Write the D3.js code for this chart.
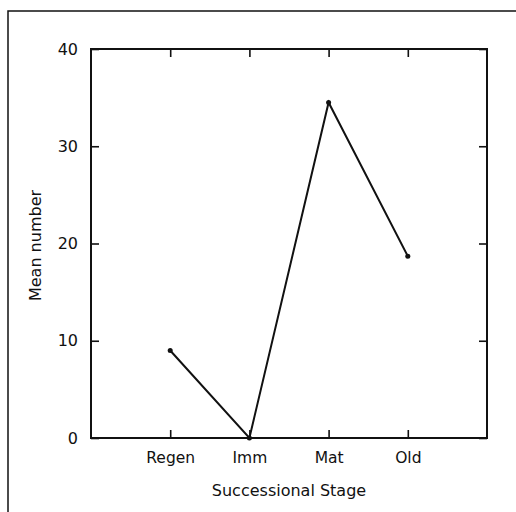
<!DOCTYPE html>
<html>
<head>
<meta charset="utf-8">
<script src="https://cdn.jsdelivr.net/npm/d3@7"></script>
<style>
  body { margin: 0; background: #fff; }
  svg { display: block; }
  .axis text { font-family: "DejaVu Sans", sans-serif; fill: #111; }
  .axis line { stroke: #111; stroke-width: 1.6; }
  .axis .domain { display: none; }
</style>
</head>
<body>
<div id="graph"></div>
<script>
// chart data
var stages = ['Regen', 'Imm', 'Mat', 'Old'];
var meanNumber = [9, 0, 34.5, 18.7];
var yTicks = [0, 10, 20, 30, 40];

var W = 516, H = 512;
// plot box in page pixels
var margin = { top: 49, right: 29, bottom: 74, left: 91 };
var width = W - margin.left - margin.right;
var height = H - margin.top - margin.bottom;

var svg = d3.select('#graph').append('svg')
  .attr('width', W)
  .attr('height', H);

// outer frame of the scanned page, runs off the right and bottom edges
svg.append('rect')
  .attr('x', 8).attr('y', 11)
  .attr('width', 540).attr('height', 540)
  .attr('fill', 'none')
  .attr('stroke', '#111')
  .attr('stroke-width', 1.5);

var g = svg.append('g')
  .attr('transform', 'translate(' + margin.left + ',' + margin.top + ')');

// categories sit on a point scale with one empty step at each end
var x = d3.scalePoint().domain(stages).range([0, width]).padding(1);
var y = d3.scaleLinear().domain([0, 40]).range([height, 0]);

// ticks point inwards on all four sides
g.append('g')
  .attr('class', 'axis')
  .attr('transform', 'translate(0,' + height + ')')
  .call(d3.axisBottom(x).tickSizeInner(-8).tickSizeOuter(0).tickPadding(14))
  .selectAll('text').style('font-size', '15.5px');

g.append('g')
  .attr('class', 'axis')
  .call(d3.axisTop(x).tickSizeInner(-8).tickSizeOuter(0).tickFormat(''));

g.append('g')
  .attr('class', 'axis')
  .call(d3.axisLeft(y).tickValues(yTicks).tickSizeInner(-8).tickSizeOuter(0).tickPadding(13))
  .selectAll('text').style('font-size', '16px');

g.append('g')
  .attr('class', 'axis')
  .attr('transform', 'translate(' + width + ',0)')
  .call(d3.axisRight(y).tickValues(yTicks).tickSizeInner(-8).tickSizeOuter(0).tickFormat(''));

// plot box
g.append('rect')
  .attr('width', width)
  .attr('height', height)
  .attr('fill', 'none')
  .attr('stroke', '#111')
  .attr('stroke-width', 2);

var line = d3.line()
  .x(function(d, i) { return x(stages[i]); })
  .y(function(d) { return y(d); });

g.append('path')
  .datum(meanNumber)
  .attr('d', line)
  .attr('fill', 'none')
  .attr('stroke', '#111')
  .attr('stroke-width', 2);

g.selectAll('circle')
  .data(meanNumber)
  .enter().append('circle')
  .attr('cx', function(d, i) { return x(stages[i]); })
  .attr('cy', function(d) { return y(d); })
  .attr('r', 2.5)
  .attr('fill', '#111');

// axis titles
svg.append('text')
  .attr('x', 289)
  .attr('y', 496)
  .attr('text-anchor', 'middle')
  .style('font-family', '"DejaVu Sans", sans-serif')
  .style('font-size', '16px')
  .attr('fill', '#111')
  .text('Successional Stage');

svg.append('text')
  .attr('transform', 'translate(41,' + (margin.top + height / 2 + 2) + ') rotate(-90)')
  .attr('text-anchor', 'middle')
  .style('font-family', '"DejaVu Sans", sans-serif')
  .style('font-size', '16px')
  .attr('fill', '#111')
  .text('Mean number');
</script>
</body>
</html>
